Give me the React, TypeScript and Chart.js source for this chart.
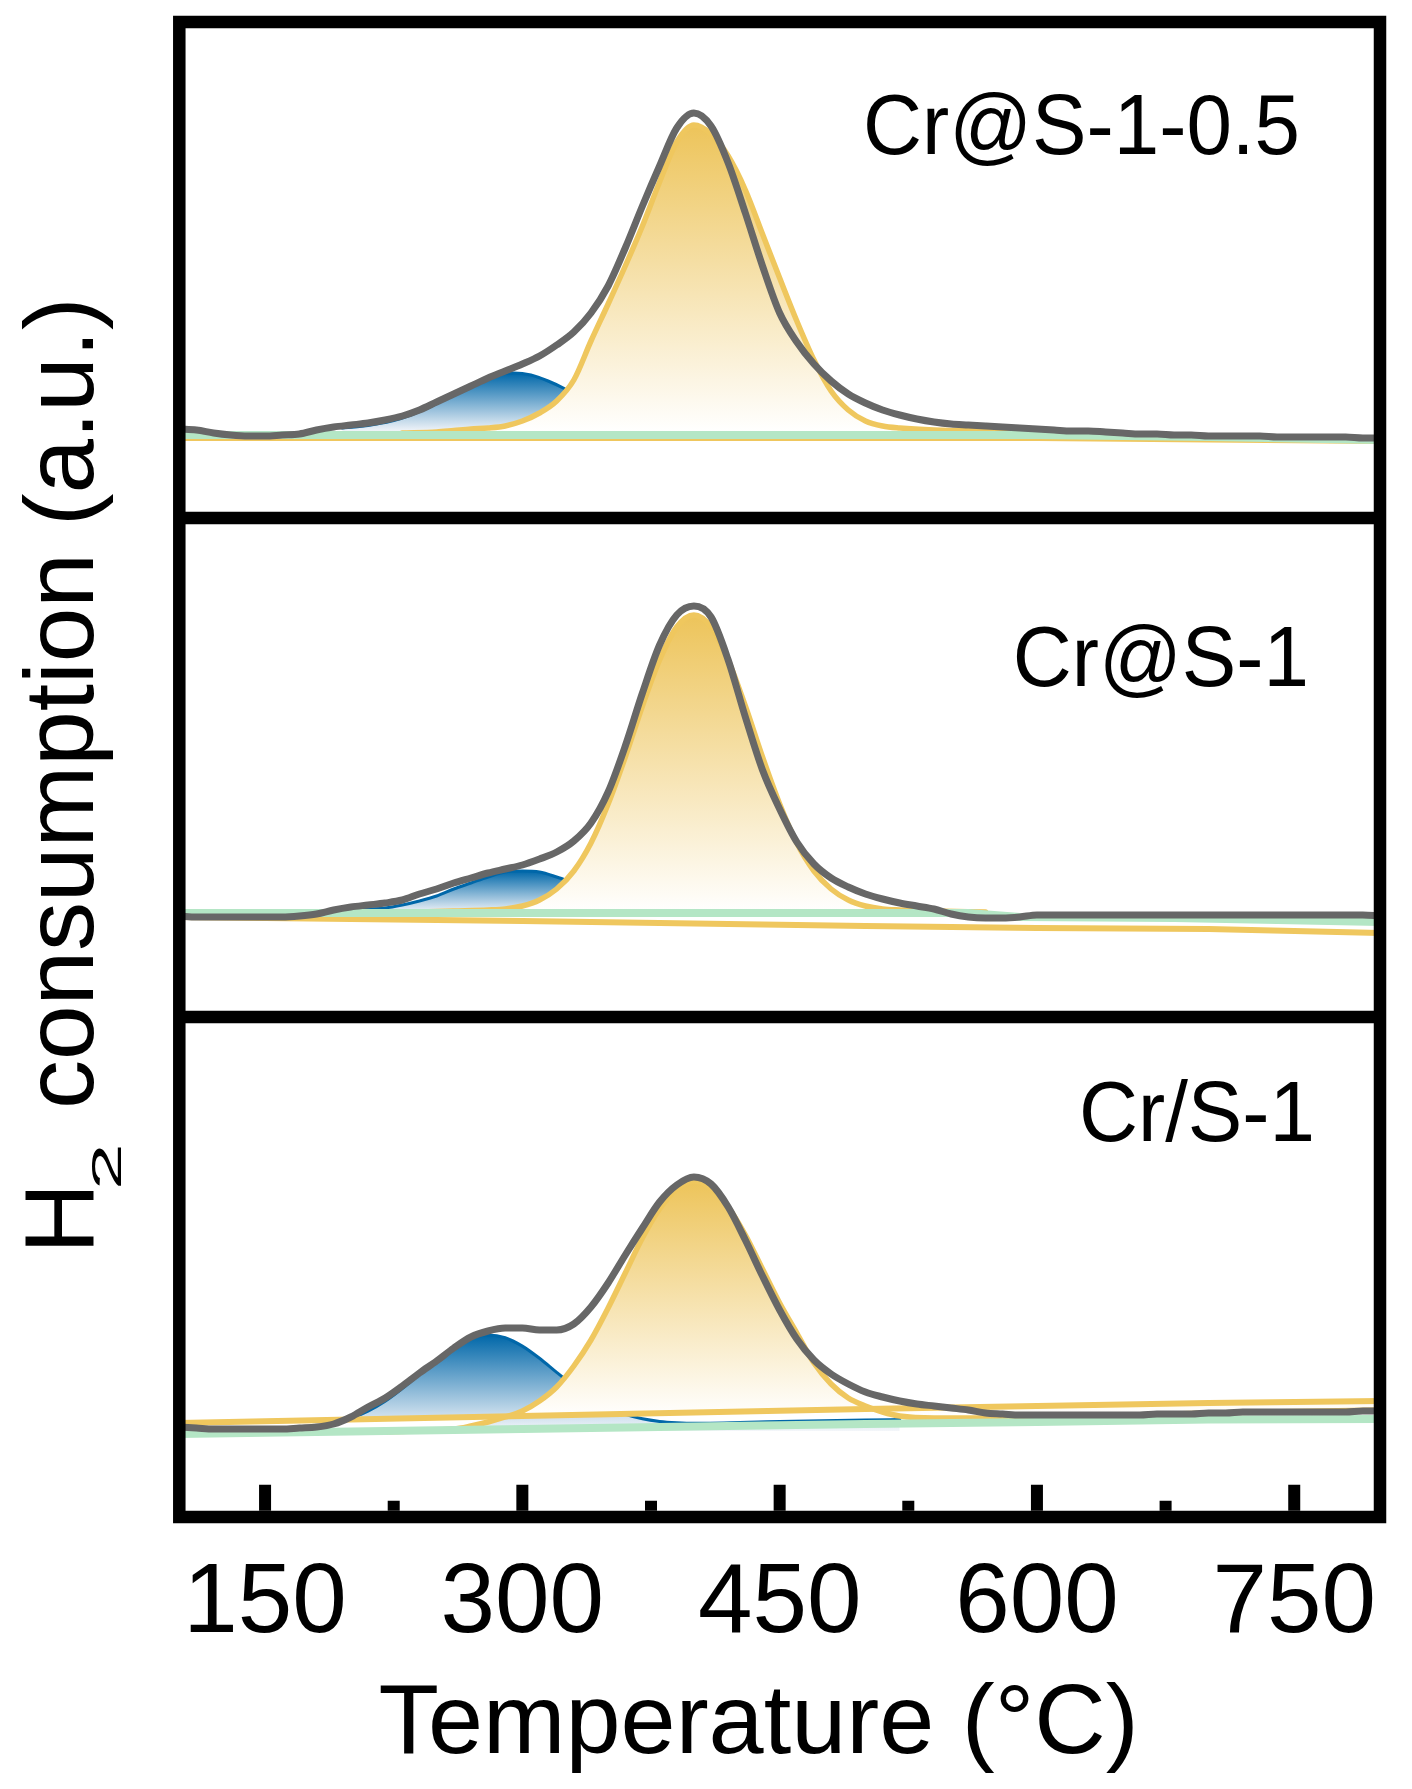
import { useEffect, useRef } from "react";
import { Chart, registerables } from "chart.js";

Chart.register(...registerables);

const FONT = '"Liberation Sans", Arial, Helvetica, sans-serif';

// temperature grid of the measured profiles (°C)
const temps = [
  100, 110, 120, 130, 140, 150, 160, 170, 180, 190, 200, 210, 220, 230, 240,
  250, 260, 270, 280, 290, 300, 310, 320, 330, 340, 350, 360, 370, 380, 390,
  400, 410, 420, 430, 440, 450, 460, 470, 480, 490, 500, 510, 520, 530, 540,
  550, 560, 570, 580, 590, 600, 610, 620, 630, 640, 650, 660, 670, 680, 690,
  700, 710, 720, 730, 740, 750, 760, 770, 780, 790, 800,
];

const majorTicks = [150, 300, 450, 600, 750];
const minorTicks = [225, 375, 525, 675];
const sampleNames = ["Cr@S-1-0.5", "Cr@S-1", "Cr/S-1"];

// measured H2-TPR profiles (a.u., each panel on its own scale)
const measuredTop = [
  89, 88, 85, 83, 82, 82, 83, 84, 88, 91, 93, 95, 98, 102, 108, 116, 124, 132,
  140, 147, 154, 162, 173, 186, 205, 232, 270, 312, 352, 390, 405, 392, 355,
  305, 252, 205, 176, 154, 137, 124, 115, 108, 103, 99, 96, 94, 93, 92, 91, 90,
  89, 88, 87, 87, 86, 85, 84, 84, 83, 83, 82, 82, 82, 82, 81, 81, 81, 81, 81,
  80, 80,
];
const measuredMid = [
  101, 100, 100, 100, 100, 100, 100, 101, 103, 107, 110, 112, 114, 117, 123,
  128, 134, 139, 144, 148, 152, 158, 165, 176, 194, 225, 271, 324, 372, 402,
  411, 400, 357, 300, 247, 208, 175, 153, 139, 130, 123, 118, 114, 111, 108,
  103, 100, 99, 99, 100, 102, 102, 102, 102, 102, 102, 102, 102, 102, 102, 102,
  102, 102, 102, 102, 102, 102, 102, 102, 102, 101,
];
const measuredBottom = [
  90, 89, 88, 88, 88, 88, 88, 89, 90, 93, 100, 110, 119, 131, 144, 156, 169,
  180, 186, 189, 189, 187, 187, 193, 210, 234, 262, 289, 315, 332, 340, 333,
  310, 277, 241, 207, 178, 157, 143, 133, 125, 120, 116, 113, 111, 109, 107,
  104, 103, 102, 102, 102, 102, 102, 102, 102, 102, 103, 103, 103, 104, 104,
  105, 105, 105, 105, 105, 105, 105, 106, 106,
];

// low-temperature fitted component (blue)
const lowTempsTop = [
  195, 205, 215, 225, 235, 245, 255, 265, 275, 285, 295, 305, 315, 325, 335,
  345, 355, 365, 375, 385, 395,
];
const lowTop = [
  90, 91.5, 94, 97.5, 103, 110, 119, 129, 137, 143, 145, 143, 137, 129, 119,
  110, 103, 97.5, 94, 91.5, 90,
];
const lowTempsMid = [
  200, 210, 220, 230, 240, 250, 260, 270, 280, 290, 300, 310, 320, 330, 340,
  350, 360, 370, 380, 390, 400,
];
const lowMid = [
  107, 108, 109, 112, 116, 121, 128, 134, 140, 145, 146, 145, 140, 134, 128,
  121, 116, 112, 109, 108, 107,
];
const lowTempsBottom = [
  160, 170, 180, 190, 200, 210, 220, 230, 240, 250, 260, 270, 280, 290, 300,
  310, 320, 330, 340, 350, 360, 370, 380, 390, 400, 450, 500, 520,
];
const lowBottom = [
  88, 89, 90.6, 93.7, 98.7, 105.9, 115.8, 128.5, 142.6, 157.2, 169.9, 178.7,
  182, 179.3, 170.9, 158.7, 144.6, 131, 118.8, 109.4, 102.7, 98.2, 95.6, 94.3,
  93.7, 95.5, 97, 97.5,
];

// main fitted component (yellow)
const mainTempsTop = [
  230, 250, 260, 270, 280, 290, 300, 310, 320, 330, 340, 350, 360, 370, 380,
  390, 400, 410, 420, 430, 440, 450, 460, 470, 480, 490, 500, 510, 520, 540,
  570, 620,
];
const mainTop = [
  85, 86, 87.5, 89, 90, 92, 97, 105, 117, 138, 177, 214, 252, 292, 336, 376,
  393, 384, 362, 328, 284, 240, 197, 158, 127, 108, 97, 92, 90, 88, 87, 86,
];
const mainTempsMid = [
  240, 260, 280, 290, 300, 310, 320, 330, 340, 350, 360, 370, 380, 390, 400,
  410, 420, 430, 440, 450, 460, 470, 480, 490, 500, 510, 520, 540, 570,
];
const mainMid = [
  105, 106, 107, 108, 111, 117, 128, 146, 174, 213, 260, 311, 357, 390, 402,
  390, 357, 311, 260, 213, 174, 146, 128, 117, 111, 108, 107, 106, 105,
];
const mainTempsBottom = [
  100, 200, 260, 270, 280, 290, 300, 310, 320, 330, 340, 350, 360, 370, 380,
  390, 400, 410, 420, 430, 440, 450, 460, 470, 480, 490, 500, 510, 520, 540,
  580, 640, 700, 800,
];
const mainBottom = [
  84, 85, 88, 91, 95, 100, 106, 116, 130, 151, 177, 209, 244, 279, 308, 328,
  336, 329, 310, 282, 248, 214, 184, 154, 133, 119, 111, 105, 101, 99, 99, 101,
  104, 107,
];

// backgrounds (green) and yellow baselines
const bgTempsTop = [100, 600, 700, 800];
const bgTop = [83, 83, 81, 78];
const bgTempsMid = [100, 560, 590, 680, 740, 800];
const bgMid = [104, 104, 100, 99, 97, 95];
const bgTempsBottom = [100, 500, 600, 700, 800];
const bgBottom = [83, 93, 95, 97.5, 98];

const baseTempsTop = [100, 600, 800];
const baseTop = [80, 80, 77];
const baseTempsMid = [100, 300, 500, 600, 700, 800];
const baseMid = [100, 96, 91, 89, 88, 84];
const baseTempsBottom = [100, 300, 500, 600, 700, 800];
const baseBottom = [94, 101, 108, 111, 114, 116];

const GRAY = "#676767";
const YELLOW = "#EFC75E";
const BLUE = "#0067A9";
const GREEN = "#B4E6C5";

const pts = (xs: number[], ys: number[]) => xs.map((x, i) => ({ x, y: ys[i] }));

function fade(axis: string, hi: number, lo: number, top: string, bottom: string) {
  return (c: any) => {
    const chart = c.chart;
    const s = chart.scales[axis];
    if (!chart.chartArea || !s) return top;
    const g = chart.ctx.createLinearGradient(0, s.getPixelForValue(hi), 0, s.getPixelForValue(lo));
    g.addColorStop(0, top);
    g.addColorStop(1, bottom);
    return g;
  };
}

const panels = [
  {
    axis: "y1", measured: measuredTop, low: [lowTempsTop, lowTop], main: [mainTempsTop, mainTop],
    bg: [bgTempsTop, bgTop], base: [baseTempsTop, baseTop], floor: 86, max: 496,
  },
  {
    axis: "y2", measured: measuredMid, low: [lowTempsMid, lowMid], main: [mainTempsMid, mainMid],
    bg: [bgTempsMid, bgMid], base: [baseTempsMid, baseMid], floor: 104, max: 499,
  },
  {
    axis: "y3", measured: measuredBottom, low: [lowTempsBottom, lowBottom], main: [mainTempsBottom, mainBottom],
    bg: [bgTempsBottom, bgBottom], base: [baseTempsBottom, baseBottom], floor: 86, max: 500,
  },
];

function buildDatasets() {
  const out: any[] = [];
  panels.forEach((p, i) => {
    const start = out.length;
    const lowMax = Math.max(...(p.low[1] as number[]));
    const mainMax = Math.max(...(p.main[1] as number[]));
    // bottom panel: main peak sits on its sloping yellow baseline
    const mainFill = i === 2 ? start + 2 : { value: p.floor };
    out.push({
      data: pts(p.low[0], p.low[1]), yAxisID: p.axis, order: 5,
      borderColor: BLUE, borderWidth: 3, fill: { value: p.floor },
      backgroundColor: fade(p.axis, lowMax, p.floor, BLUE, "#F4F6FA"),
    });
    out.push({
      data: pts(p.main[0], p.main[1]), yAxisID: p.axis, order: 4,
      borderColor: YELLOW, borderWidth: 5.5, fill: mainFill,
      backgroundColor: fade(p.axis, mainMax, i === 2 ? 100 : p.floor, "#EDC45A", "#FFFFFF"),
    });
    out.push({
      data: pts(p.base[0], p.base[1]), yAxisID: p.axis, order: 3,
      borderColor: YELLOW, borderWidth: 6, tension: 0, cubicInterpolationMode: "default",
    });
    out.push({
      data: pts(p.bg[0], p.bg[1]), yAxisID: p.axis, order: 2,
      borderColor: GREEN, borderWidth: 8, tension: 0, cubicInterpolationMode: "default",
    });
    out.push({
      data: pts(temps, p.measured), yAxisID: p.axis, order: 1,
      borderColor: GRAY, borderWidth: 7,
    });
  });
  return out;
}

const framePlugin = {
  id: "tprFrame",
  afterDatasetsDraw(chart: any) {
    const { ctx, chartArea: a, scales } = chart;
    const x = scales.x;
    const lw = 12.5;
    ctx.save();
    ctx.strokeStyle = "#000";
    ctx.lineWidth = lw;
    ctx.strokeRect(a.left, a.top, a.right - a.left, a.bottom - a.top);
    [scales.y1.bottom, scales.y2.bottom].forEach((yy: number) => {
      ctx.beginPath();
      ctx.moveTo(a.left, yy);
      ctx.lineTo(a.right, yy);
      ctx.stroke();
    });

    // inward ticks on the bottom edge
    const inner = a.bottom - lw / 2;
    ctx.fillStyle = "#000";
    majorTicks.forEach((t) => {
      const px = x.getPixelForValue(t);
      ctx.fillRect(px - 6, inner - 26, 12, 26);
    });
    minorTicks.forEach((t) => {
      const px = x.getPixelForValue(t);
      ctx.fillRect(px - 6, inner - 10, 12, 10);
    });

    ctx.textBaseline = "alphabetic";
    ctx.textAlign = "center";
    ctx.font = `98px ${FONT}`;
    majorTicks.forEach((t) => ctx.fillText(String(t), x.getPixelForValue(t), a.bottom + 115));

    ctx.font = `99px ${FONT}`;
    ctx.fillText("Temperature (°C)", (a.left + a.right) / 2 - 21, a.bottom + 236);

    // sample names, slightly condensed
    ctx.textAlign = "right";
    ctx.font = `86px ${FONT}`;
    const nameSpots = [
      [80, 132],
      [71, 168],
      [65, 124],
    ];
    ["y1", "y2", "y3"].forEach((id, i) => {
      ctx.save();
      ctx.translate(a.right - nameSpots[i][0], scales[id].top + nameSpots[i][1]);
      ctx.scale(0.95, 1);
      ctx.fillText(sampleNames[i], 0, 0);
      ctx.restore();
    });

    // y title with subscript
    ctx.translate(a.left - 86.6, (a.top + a.bottom) / 2);
    ctx.rotate(-Math.PI / 2);
    ctx.textAlign = "left";
    ctx.font = `98px ${FONT}`;
    const wH = ctx.measureText("H").width;
    const rest = " consumption (a.u.)";
    const wR = ctx.measureText(rest).width;
    ctx.font = `84px ${FONT}`;
    const w2 = ctx.measureText("2").width;
    let xx = -(wH + w2 + wR) / 2 - 6;
    ctx.font = `98px ${FONT}`;
    ctx.fillText("H", xx, 0);
    xx += wH;
    ctx.save();
    ctx.translate(xx - 7, 28);
    ctx.scale(1, 0.5);
    ctx.font = `84px ${FONT}`;
    ctx.fillText("2", 0, 0);
    ctx.restore();
    xx += w2;
    ctx.fillText(rest, xx, 0);
    ctx.restore();
  },
};

export default function App() {
  const canvasRef = useRef<HTMLCanvasElement | null>(null);

  useEffect(() => {
    document.body.style.margin = "0";
    if (!canvasRef.current) return;
    const ctx = canvasRef.current.getContext("2d");
    if (!ctx) return;

    // right-positioned boxes are stacked in definition order: y1 on top
    const yAxis = (max: number, weight: number) => ({
      type: "linear" as const,
      position: "right" as const,
      stack: "panels",
      stackWeight: weight,
      min: 0,
      max,
      display: false,
    });

    const chart = new Chart(ctx, {
      type: "line",
      data: { datasets: buildDatasets() },
      options: {
        animation: false,
        responsive: true,
        maintainAspectRatio: false,
        layout: { padding: { left: 179.3, right: 32, top: 22, bottom: 272 } },
        elements: {
          point: { radius: 0 },
          line: { cubicInterpolationMode: "monotone", borderCapStyle: "round", borderJoinStyle: "round" },
        },
        plugins: { legend: { display: false }, tooltip: { enabled: false } },
        scales: {
          x: { type: "linear", min: 100, max: 800, display: false },
          y1: yAxis(panels[0].max, 496),
          y2: yAxis(panels[1].max, 499),
          y3: yAxis(panels[2].max, 500),
        },
      } as any,
      plugins: [framePlugin],
    });

    return () => {
      chart.destroy();
    };
  }, []);

  return (
    <div style={{ width: "1412px", height: "1789px", position: "relative", background: "#fff" }}>
      <canvas ref={canvasRef}></canvas>
    </div>
  );
}
